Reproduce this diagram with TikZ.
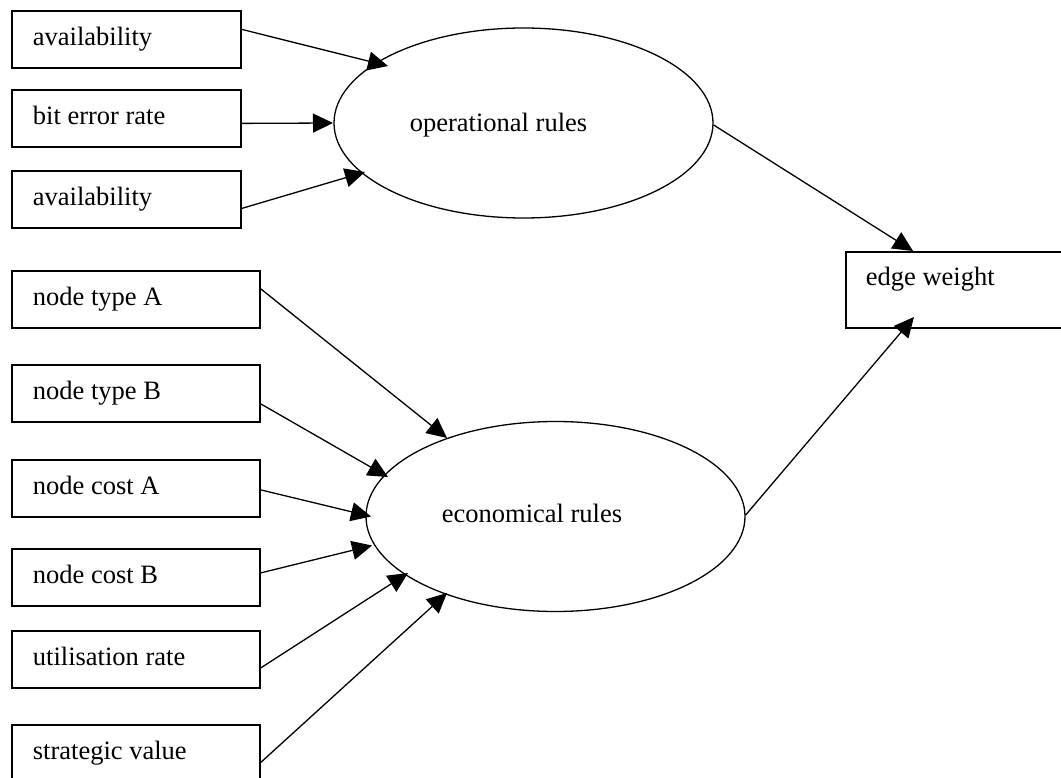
\documentclass[tikz,border=0pt]{standalone}
\usepackage{fontspec}
\setmainfont{Liberation Serif}
\usetikzlibrary{shapes.geometric,arrows.meta,calc}
\begin{document}
\begin{tikzpicture}[x=1pt,y=-1pt,
  font=\fontsize{26.5}{30}\selectfont,
  inbox/.style={draw, line width=1.8pt, rectangle, anchor=north west,
    inner xsep=21pt, inner ysep=0pt, text height=18pt, text depth=6pt,
    align=flush left, minimum height=57pt},
  upbox/.style={inbox, text width=187pt},
  lowbox/.style={inbox, text width=206pt},
  rulebox/.style={draw, line width=1.3pt, ellipse, inner sep=0pt,
    minimum width=379pt, minimum height=190pt},
  rulelbl/.style={text height=18pt, text depth=6pt, inner sep=0pt},
  arr/.style={line width=1.3pt, -{Triangle[length=20pt,width=19pt]}}
]
\useasboundingbox (0,0) rectangle (1061,778);
\fill[white] (0,0) rectangle (1061,778);
\clip (0,0) rectangle (1061,778);

% input boxes (upper group)
\node[upbox] (a1) at (11,10) {availability};
\node[upbox] (ber) at (11,89) {bit error rate};
\node[upbox] (a2) at (11,170) {availability};

% input boxes (lower group)
\node[lowbox] (nta) at (11,270) {node type A};
\node[lowbox] (ntb) at (11,364) {node type B};
\node[lowbox] (nca) at (11,459) {node cost A};
\node[lowbox] (ncb) at (11,548) {node cost B};
\node[lowbox] (util) at (11,630) {utilisation rate};
\node[lowbox] (strat) at (11,724) {strategic value};

% rule ellipses
\node[rulebox, label={[rulelbl, name=oprl, xshift=-25pt, yshift=-3pt]center:operational rules}] (opr) at (523.5,123) {};
\node[rulebox, label={[rulelbl, name=ecol, xshift=-23.5pt]center:economical rules}] (eco) at (555.5,516.5) {};

% output box
\node[draw, line width=1.8pt, rectangle, anchor=north west, inner xsep=20pt, inner ysep=0pt,
  text height=18pt, text depth=26pt, align=flush left, text width=190pt, minimum height=76pt] (ew) at (845,251) {edge weight};

% connectors to operational rules
\draw[arr] ($(a1.east)+(0,-10)$) -- ($(opr.center)+(-135.5,-57)$);
\draw[arr] ($(ber.east)+(0,5)$) -- ($(opr.center)+(-190.5,0)$);
\draw[arr] ($(a2.east)+(0,9)$) -- ($(opr.center)+(-158.5,49)$);

% connectors to economical rules
\draw[arr] ($(nta.east)+(0,-10.5)$) -- ($(eco.center)+(-108.5,-78.5)$);
\draw[arr] ($(ntb.east)+(0,10.5)$) -- ($(eco.center)+(-167.5,-39.5)$);
\draw[arr] ($(nca.east)+(0,1.5)$) -- ($(eco.center)+(-184.5,0)$);
\draw[arr] ($(ncb.east)+(0,-4.5)$) -- ($(eco.center)+(-183.5,29)$);
\draw[arr] ($(util.east)+(0,8.5)$) -- ($(eco.center)+(-147.5,56.5)$);
\draw[arr] ($(strat.east)+(0,9)$) -- ($(eco.center)+(-108.5,76.5)$);

% connectors to edge weight
\draw[arr] ($(opr.east)+(0,2)$) -- ($(ew.north west)+(68,0)$);
\draw[arr] ($(eco.east)+(0,-1.5)$) -- ($(ew.north west)+(69,66)$);
\end{tikzpicture}
\end{document}
